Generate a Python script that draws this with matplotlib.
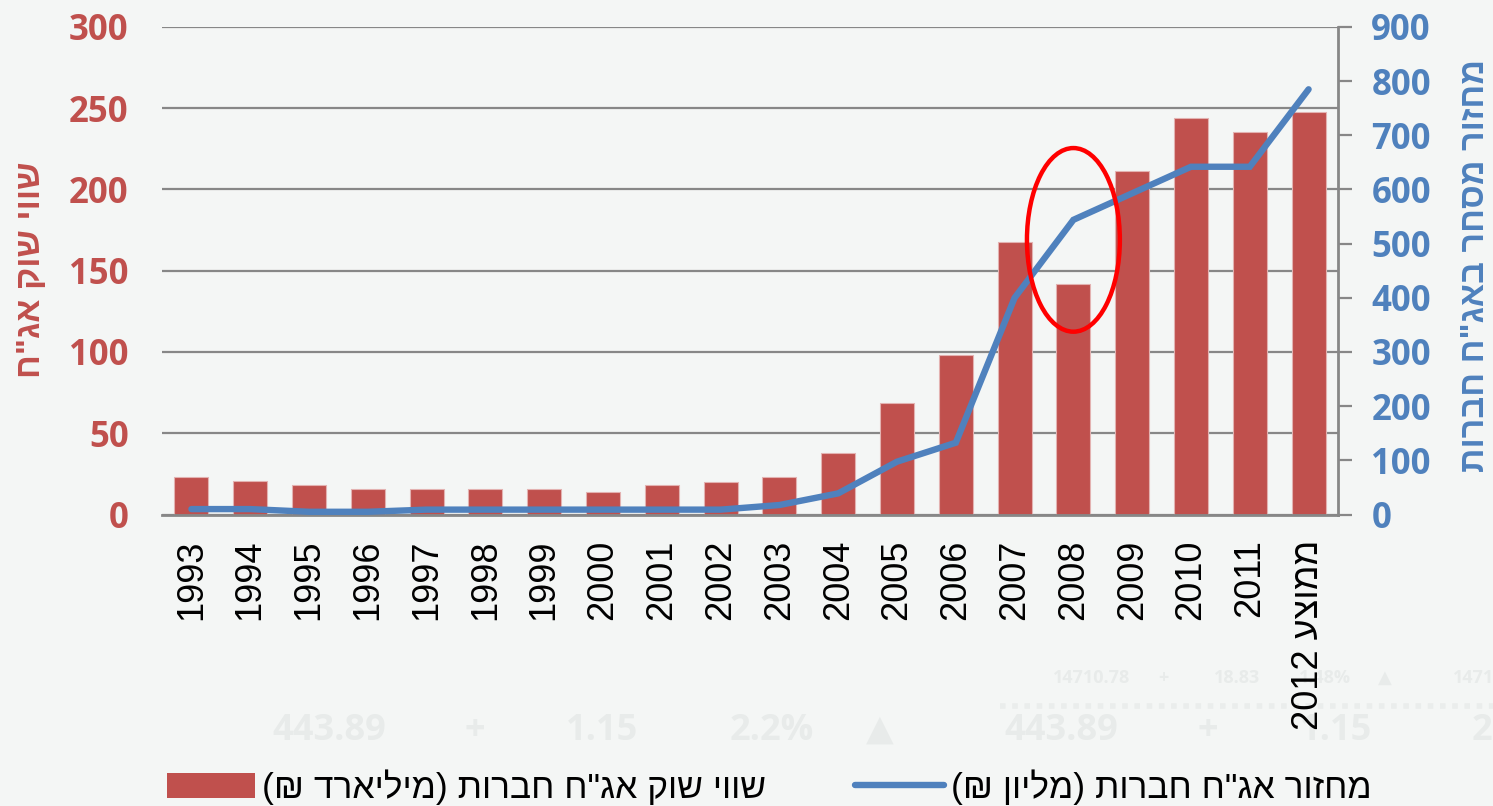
import re
import matplotlib
matplotlib.use("Agg")
import matplotlib.pyplot as plt
from matplotlib.patches import Ellipse, Patch
from matplotlib.lines import Line2D
from matplotlib.font_manager import FontProperties

# ---------------- data ----------------
categories = ["1993", "1994", "1995", "1996", "1997", "1998", "1999", "2000",
              "2001", "2002", "2003", "2004", "2005", "2006", "2007", "2008",
              "2009", "2010", "2011", "ממוצע 2012"]
market_value = [23.2, 20.9, 18.2, 15.4, 15.4, 15.4, 15.4, 14.1, 18.2, 19.7,
                23.3, 37.7, 68.4, 98.2, 167.5, 141.8, 211.4, 243.8, 235.6, 247.9]
turnover = [10, 10, 5, 5, 9, 9, 9, 9, 9, 9,
            17.5, 39, 97.5, 132.5, 400, 544, 593, 642, 642, 785]

bar_label = 'שווי שוק אג"ח חברות (מיליארד ₪)'
line_label = 'מחזור אג"ח חברות (מליון ₪)'
left_title = 'שווי שוק אג"ח'
right_title = 'מחזור מסחר באג"ח חברות'
left_ticks = [0, 50, 100, 150, 200, 250, 300]
right_ticks = [0, 100, 200, 300, 400, 500, 600, 700, 800, 900]

# background (faint watermark) texts
wm_big = ["443.89", "+", "1.15", "2.2%", "▲", "443.89", "+", "1.15", "2"]
wm_small = ["14710.78", "+", "18.83", "1.48%", "▲", "1471"]

BAR_C = "#C0504D"
LINE_C = "#4F81BD"
BG = "#F4F6F5"
GRID_C = "#878787"
HEB = ["Liberation Sans", "DejaVu Sans"]
NUM = ["Open Sans", "DejaVu Sans"]

_mirror = {"(": ")", ")": "("}


def vis(s):
    """Logical RTL string -> visual LTR order (matplotlib has no bidi)."""
    rev = "".join(_mirror.get(c, c) for c in reversed(s))
    return re.sub(r"\d+(?:[.,]\d+)*", lambda m: m.group(0)[::-1], rev)


fig = plt.figure(figsize=(14.93, 8.06), dpi=100, facecolor=BG)
W, H = 1493, 806

# watermark
for txt, xp in zip(wm_big, [329, 475, 602, 772, 880, 1061, 1208, 1336, 1482]):
    fig.text(xp / W, 1 - 731 / H, txt, ha="center", va="center", fontsize=26,
             color="#E8EBEA", family=NUM, fontweight="bold", zorder=-5)
for txt, xp in zip(wm_small, [1092, 1163, 1237, 1325, 1385, 1474]):
    fig.text(xp / W, 1 - 678 / H, txt, ha="center", va="center", fontsize=13,
             color="#E8EBEA", family=NUM, fontweight="bold", zorder=-5)
fig.add_artist(Line2D([1000 / W, 1.0], [1 - 706 / H] * 2, transform=fig.transFigure,
                      color="#EAEDEC", lw=4, ls=(0, (1, 1.2)), zorder=-5))

ax = fig.add_axes([162 / W, 1 - 514.5 / H, (1338 - 162) / W, (514.5 - 27) / H])
ax.set_facecolor(BG)
x = list(range(len(categories)))

ax.bar(x, market_value, width=0.58, color=BAR_C, edgecolor="#E3B2B1",
       linewidth=0.8, zorder=2)
ax.set_axisbelow(True)
ax.grid(axis="y", color=GRID_C, lw=1.6)
ax.set_ylim(0, 300)
ax.set_yticks(left_ticks)
ax.set_xlim(-0.5, len(categories) - 0.5)
for s in ["left", "top", "right"]:
    ax.spines[s].set_visible(False)
ax.spines["bottom"].set_color(GRID_C)
ax.spines["bottom"].set_linewidth(2)
ax.tick_params(axis="y", length=0, pad=24, labelsize=25, labelcolor=BAR_C)
for lbl in ax.get_yticklabels():
    lbl.set_fontweight("bold")
    lbl.set_family(NUM)
ax.set_xticks(x)
ax.set_xticklabels([vis(c) for c in categories], rotation=90, fontsize=26,
                   family=HEB, color="black")
ax.tick_params(axis="x", length=0, pad=18)

ax2 = ax.twinx()
ax2.plot(x, turnover, color=LINE_C, lw=4.6, solid_capstyle="round",
         solid_joinstyle="miter", zorder=3)
ax2.add_patch(Ellipse((15, 169), width=1.58, height=113, transform=ax.transData,
                      fill=False, edgecolor="#FF0000", lw=3.2, zorder=4))
ax2.set_ylim(0, 900)
ax2.set_yticks(right_ticks)
ax2.set_xlim(-0.5, len(categories) - 0.5)
for s in ["left", "top", "bottom"]:
    ax2.spines[s].set_visible(False)
ax2.spines["right"].set_color(GRID_C)
ax2.spines["right"].set_linewidth(2)
ax2.tick_params(axis="y", direction="out", length=10, width=1.6, color=GRID_C,
                pad=14, labelsize=25, labelcolor=LINE_C)
for lbl in ax2.get_yticklabels():
    lbl.set_fontweight("bold")
    lbl.set_family(NUM)

# axis titles
fig.text(32 / W, 1 - 270 / H, vis(left_title), rotation=90, ha="center", va="center",
         fontsize=24.5, fontweight="bold", color=BAR_C, family=HEB)
fig.text(1476 / W, 1 - 265 / H, vis(right_title), rotation=90, ha="center", va="center",
         fontsize=24.5, fontweight="bold", color=LINE_C, family=HEB)

handles = [Patch(facecolor=BAR_C, edgecolor="none"),
           Line2D([0], [0], color=LINE_C, lw=4.6, solid_capstyle="round")]
fig.legend(handles, [vis(bar_label), vis(line_label)], loc="center",
           bbox_to_anchor=(769 / W, 1 - 787 / H), ncol=2, frameon=False,
           prop=FontProperties(family=HEB, size=25.5), handlelength=2.5,
           handleheight=0.7, handletextpad=0.2, columnspacing=2.5)

fig.savefig("out.png", dpi=100, facecolor=BG)
